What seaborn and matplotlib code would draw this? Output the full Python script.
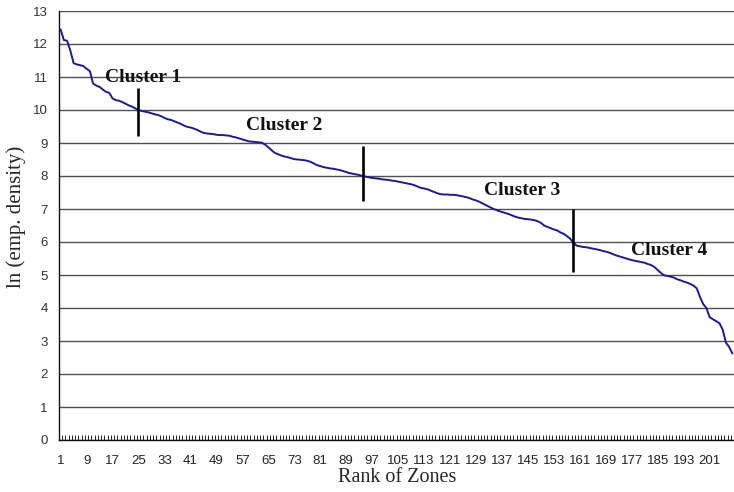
import matplotlib
matplotlib.use("Agg")
import matplotlib.pyplot as plt
import seaborn as sns
import pandas as pd
import numpy as np
from matplotlib.ticker import FixedLocator

# ---- data ----
ln_density = [
    12.44, 12.12, 12.10, 11.80, 11.42, 11.38, 11.36, 11.33, 11.25, 11.18,
    10.80, 10.74, 10.70, 10.62, 10.55, 10.52, 10.35, 10.30, 10.28, 10.24,
    10.19, 10.14, 10.10, 10.05, 10.00, 9.97, 9.95, 9.93, 9.90, 9.87,
    9.85, 9.81, 9.76, 9.72, 9.70, 9.66, 9.62, 9.58, 9.53, 9.49,
    9.47, 9.44, 9.40, 9.35, 9.31, 9.29, 9.28, 9.27, 9.25, 9.24,
    9.24, 9.23, 9.22, 9.19, 9.17, 9.14, 9.11, 9.08, 9.05, 9.04,
    9.03, 9.02, 9.01, 8.95, 8.87, 8.78, 8.70, 8.66, 8.62, 8.59,
    8.57, 8.54, 8.51, 8.50, 8.49, 8.48, 8.46, 8.43, 8.38, 8.33,
    8.30, 8.27, 8.25, 8.23, 8.22, 8.20, 8.18, 8.15, 8.12, 8.09,
    8.07, 8.05, 8.03, 8.00, 7.98, 7.96, 7.94, 7.93, 7.92, 7.90,
    7.89, 7.88, 7.86, 7.85, 7.83, 7.81, 7.79, 7.77, 7.75, 7.72,
    7.68, 7.64, 7.62, 7.60, 7.56, 7.52, 7.48, 7.45, 7.44, 7.44,
    7.43, 7.43, 7.42, 7.40, 7.38, 7.36, 7.33, 7.29, 7.26, 7.22,
    7.17, 7.12, 7.07, 7.02, 6.98, 6.94, 6.91, 6.88, 6.85, 6.81,
    6.77, 6.74, 6.72, 6.70, 6.69, 6.68, 6.66, 6.63, 6.58, 6.50,
    6.46, 6.42, 6.38, 6.35, 6.29, 6.25, 6.18, 6.10, 5.98, 5.89,
    5.87, 5.85, 5.84, 5.82, 5.80, 5.78, 5.76, 5.73, 5.71, 5.68,
    5.64, 5.60, 5.57, 5.54, 5.51, 5.48, 5.45, 5.43, 5.41, 5.39,
    5.37, 5.33, 5.30, 5.24, 5.15, 5.06, 4.99, 4.97, 4.95, 4.92,
    4.87, 4.84, 4.80, 4.77, 4.73, 4.68, 4.60, 4.34, 4.12, 4.00,
    3.72, 3.66, 3.60, 3.54, 3.35, 2.95, 2.82, 2.62,
]
ranks = list(range(1, len(ln_density) + 1))
x_tick_labels = list(range(1, 202, 8))
y_ticks = list(range(0, 14))

cluster_names = ["Cluster 1", "Cluster 2", "Cluster 3", "Cluster 4"]
cluster_label_x = [26.4, 70.0, 143.2, 188.6]
cluster_label_y = [10.97, 9.52, 7.55, 5.73]
break_x = [24.85, 94.2, 158.9]
break_ymin = [9.21, 7.24, 5.09]
break_ymax = [10.67, 8.91, 7.00]

df = pd.DataFrame({"rank": ranks, "value": ln_density})

sns.set_style("white")
plt.rcParams["font.family"] = ["Liberation Sans", "DejaVu Sans"]

fig = plt.figure(figsize=(7.34, 4.92), dpi=100)
ax = fig.add_axes([59 / 734, 52 / 492, 675 / 734, 429 / 492])

sns.lineplot(data=df, x="rank", y="value", ax=ax, color="#1c1c8e", linewidth=1.4)

ax.set_xlim(0.5, len(ranks) + 0.5)
ax.set_ylim(0, 13)
ax.set_yticks(y_ticks)
ax.set_yticklabels([str(v) for v in y_ticks], fontsize=9.5, color="#333333")
ax.set_xticks(x_tick_labels)
ax.set_xticklabels([str(v) for v in x_tick_labels], fontsize=9.5, color="#222222")
ax.xaxis.set_minor_locator(FixedLocator(np.arange(0.5, len(ranks) + 1, 1.0)))
ax.tick_params(axis="x", which="major", length=0, pad=11)
ax.tick_params(axis="x", which="minor", direction="in", length=3.5, width=0.7, color="#222222", bottom=True)
ax.tick_params(axis="y", which="major", length=0, pad=8)

ax.yaxis.grid(True, color="#505050", linewidth=1.0)
ax.xaxis.grid(False)
ax.set_axisbelow(True)

for side in ["top", "right"]:
    ax.spines[side].set_visible(False)
for side in ["left", "bottom"]:
    ax.spines[side].set_visible(True)
    ax.spines[side].set_color("#111111")
    ax.spines[side].set_linewidth(1.0)

ax.set_xlabel("Rank of Zones", family=["Liberation Serif"], fontsize=14.5)
ax.xaxis.set_label_coords((397 - 59) / 675, -(478 - 440) / 429)
ax.xaxis.label.set_va("center")
ax.set_ylabel("ln (emp. density)", family=["Liberation Serif"], fontsize=15)
ax.yaxis.set_label_coords((16 - 59) / 675, (440 - 217) / 429)
ax.yaxis.label.set_va("center")

for bx, y0, y1 in zip(break_x, break_ymin, break_ymax):
    ax.vlines(bx, y0, y1, color="black", linewidth=1.9)

for name, tx, ty in zip(cluster_names, cluster_label_x, cluster_label_y):
    ax.text(tx, ty, name, ha="center", va="center", family=["Liberation Serif"],
            fontweight="bold", fontsize=14, color="#111111")

fig.savefig("out.png", dpi=100)
